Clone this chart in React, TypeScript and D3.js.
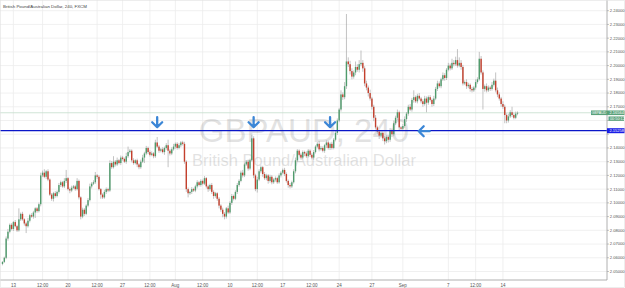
import React from "react";
import * as d3 from "d3";

// GBPAUD 4H closes
const closes = [
  2.0570, 2.0600, 2.0740, 2.0790, 2.0840, 2.0810, 2.0860, 2.0830, 2.0800, 2.0880,
  2.0920, 2.0880, 2.0850, 2.0830, 2.0870, 2.0910, 2.0900, 2.0930, 2.0960, 2.0940,
  2.0990, 2.1200, 2.1220, 2.1190, 2.1230, 2.1170, 2.1060, 2.1030, 2.1070, 2.1050,
  2.1080, 2.1130, 2.1150, 2.1120, 2.1160, 2.1180, 2.1100, 2.1090, 2.1110, 2.1120,
  2.1100, 2.1160, 2.1040, 2.0900, 2.0950, 2.0920, 2.0980, 2.1020, 2.1120, 2.1140,
  2.1150, 2.1200, 2.1190, 2.1100, 2.1060, 2.1040, 2.1080, 2.1100, 2.1090, 2.1290,
  2.1260, 2.1300, 2.1280, 2.1310, 2.1290, 2.1330, 2.1320, 2.1300, 2.1340, 2.1370,
  2.1380, 2.1310, 2.1290, 2.1310, 2.1280, 2.1260, 2.1300, 2.1330, 2.1360, 2.1400,
  2.1370, 2.1350, 2.1360, 2.1340, 2.1440, 2.1410, 2.1380, 2.1390, 2.1370, 2.1400,
  2.1420, 2.1380, 2.1360, 2.1390, 2.1410, 2.1430, 2.1400, 2.1420, 2.1440, 2.1430,
  2.1300, 2.1100, 2.1070, 2.1080, 2.1100, 2.1090, 2.1120, 2.1150, 2.1130, 2.1160,
  2.1140, 2.1180, 2.1120, 2.1100, 2.1130, 2.1080, 2.1050, 2.1070, 2.1030, 2.0980,
  2.0950, 2.0920, 2.0900, 2.0960, 2.0930, 2.1000, 2.1050, 2.1030, 2.1080, 2.1130,
  2.1160, 2.1220, 2.1200, 2.1280, 2.1300, 2.1250, 2.1310, 2.1470, 2.1200, 2.1100,
  2.1170, 2.1230, 2.1260, 2.1210, 2.1180, 2.1200, 2.1160, 2.1190, 2.1150, 2.1170,
  2.1180, 2.1150, 2.1200, 2.1220, 2.1240, 2.1210, 2.1160, 2.1130, 2.1120, 2.1150,
  2.1230, 2.1310, 2.1380, 2.1350, 2.1330, 2.1370, 2.1360, 2.1340, 2.1380, 2.1350,
  2.1330, 2.1370, 2.1410, 2.1430, 2.1390, 2.1400, 2.1380, 2.1420, 2.1440, 2.1400,
  2.1430, 2.1400, 2.1460, 2.1510, 2.1600, 2.1680, 2.1790, 2.1770, 2.1850, 2.2030,
  2.2010, 2.1960, 2.1920, 2.1950, 2.1990, 2.1970, 2.2010, 2.2020, 2.1980, 2.1870,
  2.1840, 2.1800, 2.1760, 2.1700, 2.1620, 2.1550, 2.1520, 2.1490, 2.1510, 2.1470,
  2.1450, 2.1480, 2.1460, 2.1530, 2.1500, 2.1580, 2.1620, 2.1660, 2.1550, 2.1540,
  2.1560, 2.1610, 2.1650, 2.1700, 2.1680, 2.1750, 2.1770, 2.1740, 2.1780, 2.1760,
  2.1740, 2.1720, 2.1760, 2.1730, 2.1770, 2.1750, 2.1720, 2.1760, 2.1830, 2.1870,
  2.1850, 2.1900, 2.1930, 2.1910, 2.1970, 2.2000, 2.1980, 2.2020, 2.2010, 2.2040,
  2.2000, 2.2020, 2.1990, 2.1870, 2.1880, 2.1850, 2.1860, 2.1830, 2.1820, 2.1840,
  2.1880, 2.1900, 2.2050, 2.1950, 2.1830, 2.1850, 2.1820, 2.1840, 2.1830, 2.1860,
  2.1890, 2.1820, 2.1790, 2.1760, 2.1720, 2.1700, 2.1640, 2.1600, 2.1630, 2.1660,
  2.1640, 2.1620, 2.1650, 2.1656,
];
const firstOpen = 2.0555;

// wick lengths above / below the body, in pips
const upperPips = [
  5, 8, 15, 20, 10, 12, 8, 15, 10, 80,
  10, 15, 8, 12, 20, 10, 15, 12, 8, 10,
  12, 20, 15, 25, 10, 15, 8, 12, 10, 15,
  10, 15, 12, 10, 20, 60, 8, 12, 15, 10,
  12, 20, 10, 8, 15, 12, 10, 15, 20, 12,
  15, 25, 10, 12, 8, 10, 15, 12, 10, 20,
  15, 40, 12, 20, 10, 15, 12, 10, 25, 40,
  12, 10, 15, 8, 12, 10, 15, 20, 12, 15,
  10, 12, 15, 10, 20, 40, 12, 10, 15, 10,
  15, 40, 12, 15, 20, 10, 12, 15, 10, 12,
  15, 10, 12, 8, 15, 10, 12, 15, 10, 12,
  10, 15, 8, 12, 10, 15, 12, 10, 8, 12,
  10, 15, 12, 10, 20, 12, 15, 10, 12, 15,
  12, 15, 20, 12, 10, 15, 12, 25, 15, 12,
  20, 15, 12, 10, 15, 12, 10, 15, 12, 10,
  12, 10, 15, 12, 10, 15, 12, 10, 15, 12,
  15, 20, 12, 10, 15, 12, 10, 15, 12, 10,
  12, 15, 10, 12, 20, 15, 12, 10, 15, 12,
  10, 15, 12, 20, 15, 12, 30, 15, 30, 346,
  30, 25, 20, 15, 40, 20, 30, 90, 20, 15,
  20, 15, 25, 12, 15, 20, 12, 10, 15, 12,
  15, 12, 10, 15, 12, 20, 15, 20, 12, 10,
  15, 20, 12, 15, 20, 15, 50, 12, 15, 20,
  12, 15, 20, 15, 12, 15, 10, 20, 15, 20,
  15, 12, 20, 15, 12, 20, 15, 30, 20, 25,
  80, 40, 20, 15, 12, 20, 15, 10, 15, 12,
  20, 15, 50, 20, 15, 12, 20, 15, 12, 20,
  15, 60, 20, 15, 12, 20, 15, 12, 20, 15,
  40, 12, 15, 10,
];
const lowerPips = [
  10, 8, 10, 15, 12, 10, 15, 8, 12, 10,
  12, 10, 15, 50, 10, 12, 8, 15, 40, 12,
  10, 15, 12, 10, 15, 12, 10, 15, 20, 12,
  10, 12, 15, 10, 12, 15, 10, 20, 12, 10,
  12, 10, 15, 20, 12, 15, 10, 12, 10, 15,
  10, 12, 15, 10, 30, 12, 10, 15, 12, 10,
  12, 10, 15, 12, 10, 15, 12, 10, 15, 12,
  10, 15, 12, 10, 20, 15, 12, 10, 40, 12,
  15, 12, 10, 15, 12, 10, 15, 12, 10, 20,
  12, 120, 15, 12, 10, 15, 12, 10, 15, 12,
  15, 20, 30, 12, 15, 10, 12, 15, 10, 12,
  12, 10, 15, 20, 12, 15, 20, 12, 15, 20,
  15, 25, 20, 15, 12, 10, 15, 12, 10, 15,
  12, 10, 15, 12, 10, 15, 12, 10, 20, 15,
  25, 12, 15, 20, 12, 15, 20, 12, 15, 12,
  15, 12, 10, 15, 12, 15, 12, 20, 15, 12,
  10, 15, 12, 10, 15, 12, 20, 12, 10, 15,
  12, 15, 10, 12, 15, 10, 12, 15, 20, 12,
  15, 12, 10, 12, 15, 12, 15, 20, 15, 20,
  20, 25, 20, 15, 20, 15, 20, 15, 25, 20,
  20, 25, 15, 20, 25, 15, 20, 25, 15, 20,
  25, 15, 20, 15, 20, 15, 12, 15, 20, 15,
  15, 12, 20, 15, 12, 15, 20, 12, 15, 12,
  15, 20, 12, 70, 15, 12, 20, 15, 12, 15,
  12, 15, 12, 20, 15, 12, 15, 12, 15, 12,
  15, 12, 20, 15, 12, 20, 15, 20, 15, 12,
  15, 12, 10, 15, 150, 20, 15, 12, 15, 12,
  12, 15, 20, 15, 20, 15, 60, 20, 15, 12,
  15, 12, 10, 12,
];

const priceTicks = [
  2.05, 2.06, 2.07, 2.08, 2.09, 2.1, 2.11, 2.12, 2.13, 2.14,
  2.15, 2.16, 2.17, 2.18, 2.19, 2.2, 2.21, 2.22, 2.23, 2.24,
];
const timeLabels = ["13", "12:00", "20", "12:00", "27", "12:00", "Aug", "12:00", "10", "12:00",
  "17", "12:00", "24", "27", "Sep", "7", "12:00", "14"];
const timeIndex = [6, 22, 36, 52, 66, 81, 95, 110, 125, 140, 154, 170, 185, 203, 220, 245, 260, 275];

// drawn annotations: candle index where the arrows sit, and the support level
const downArrows = [85, 138, 180];
const leftArrow = 232;
const levelPrice = 2.15258;
const lastPrice = 2.16564;

const W = 625, H = 288;
const axisX = 607, axisY = 280;

export default function App() {
  const x = d3.scaleLinear().domain([0, closes.length - 1]).range([2.5, 517.5]);
  const y = d3.scaleLinear().domain([2.05, 2.24]).range([271.5, 10.7]);

  const candles = closes.map((c, i) => {
    const o = i === 0 ? firstOpen : closes[i - 1];
    const hi = Math.max(o, c) + upperPips[i] / 10000;
    const lo = Math.min(o, c) - lowerPips[i] / 10000;
    return { i, o, c, hi, lo };
  });
  const fmt = d3.format(".5f");
  const font = "'Liberation Sans', Arial, sans-serif";
  const blue = "#3b86d6";

  // labels hidden behind the price boxes on the axis
  const covered = (p: number) =>
    Math.abs(y(p) - y(levelPrice)) < 4 || Math.abs(y(p) - (y(lastPrice) + 6)) < 4;

  return (
    <svg width={W} height={H} style={{ position: "absolute", left: 0, top: 0, background: "#fff" }}
      fontFamily={font}>
      {/* grid */}
      {priceTicks.map((p) => (
        <line key={"h" + p} x1={0} x2={axisX} y1={y(p)} y2={y(p)} stroke="#ececec" strokeWidth={0.8} />
      ))}
      {timeIndex.map((t, k) => (
        <line key={"v" + k} x1={x(t)} x2={x(t)} y1={0} y2={axisY} stroke="#ececec" strokeWidth={0.8} />
      ))}

      {/* watermark */}
      <text x={304} y={142} textAnchor="middle" fontSize={33} fill="#000" opacity={0.11}>GBPAUD, 240</text>
      <text x={304} y={166} textAnchor="middle" fontSize={16.5} fill="#000" opacity={0.11}>British Pound/Australian Dollar</text>

      {/* last price line */}
      <line x1={0} x2={axisX} y1={y(lastPrice)} y2={y(lastPrice)} stroke="#c4ddcd" strokeWidth={0.8} />

      {/* candles */}
      {candles.map((d) => (
        <line key={"w" + d.i} x1={x(d.i)} x2={x(d.i)} y1={y(d.hi)} y2={y(d.lo)} stroke="#9a9a9a" strokeWidth={0.6} />
      ))}
      {candles.map((d) => {
        const top = y(Math.max(d.o, d.c));
        const h = Math.max(0.7, y(Math.min(d.o, d.c)) - top);
        return (
          <rect key={"b" + d.i} x={x(d.i) - 0.7} y={top} width={1.4} height={h}
            fill={d.c >= d.o ? "#4f9b6c" : "#c4402d"} />
        );
      })}

      {/* support level */}
      <line x1={0} x2={axisX} y1={y(levelPrice)} y2={y(levelPrice)} stroke="#0a16c8" strokeWidth={1.3} />

      {/* arrows */}
      {downArrows.map((i) => {
        const cx = x(i), tip = y(levelPrice) - 3.5;
        return (
          <path key={"a" + i}
            d={`M${cx},${tip - 10} L${cx},${tip} M${cx - 5},${tip - 5} L${cx},${tip} L${cx + 5},${tip - 5}`}
            fill="none" stroke={blue} strokeWidth={2.3} strokeLinecap="round" strokeLinejoin="round" />
        );
      })}
      {(() => {
        const tx = x(leftArrow) - 6, cy = y(levelPrice) + 0.5;
        return (
          <path d={`M${tx + 11},${cy} L${tx},${cy} M${tx + 5},${cy - 5} L${tx},${cy} L${tx + 5},${cy + 5}`}
            fill="none" stroke={blue} strokeWidth={2.3} strokeLinecap="round" strokeLinejoin="round" />
        );
      })()}

      {/* axes */}
      <line x1={axisX} x2={axisX} y1={0} y2={axisY} stroke="#9c9c9c" strokeWidth={0.8} />
      <line x1={0} x2={axisX} y1={axisY} y2={axisY} stroke="#9c9c9c" strokeWidth={0.8} />
      <rect x={0.5} y={0.5} width={W - 1} height={H - 1} fill="none" stroke="#e2e2e2" strokeWidth={0.6} />
      {priceTicks.map((p) => (
        <g key={"pt" + p}>
          <line x1={axisX} x2={axisX + 2} y1={y(p)} y2={y(p)} stroke="#9c9c9c" strokeWidth={0.6} />
          {!covered(p) && (
            <text x={axisX + 2.8} y={y(p) + 1.4} fontSize={4.1} fill="#555">{fmt(p)}</text>
          )}
        </g>
      ))}
      {timeIndex.map((t, k) => (
        <text key={"tl" + k} x={x(t)} y={287} textAnchor="middle" fontSize={4.5} fill="#555">{timeLabels[k]}</text>
      ))}

      {/* price labels on axis */}
      <rect x={591} y={y(lastPrice) - 2.3} width={16} height={4.6} fill="#5aa17a" />
      <text x={599} y={y(lastPrice) + 1.3} textAnchor="middle" fontSize={3.6} fill="#fff">GBPAUD</text>
      <rect x={axisX} y={y(lastPrice) - 2.3} width={17.5} height={4.6} fill="#5aa17a" />
      <text x={axisX + 2.5} y={y(lastPrice) + 1.4} fontSize={4} fill="#fff">{fmt(lastPrice)}</text>
      <rect x={axisX + 1.5} y={y(lastPrice) + 3.7} width={15.5} height={4.4} fill="#5aa17a" />
      <text x={axisX + 3} y={y(lastPrice) + 7.1} fontSize={3.8} fill="#fff">00:50:12</text>
      <rect x={axisX} y={y(levelPrice) - 2.5} width={17.5} height={5} fill="#1a1ee6" />
      <text x={axisX + 2.5} y={y(levelPrice) + 1.5} fontSize={4} fill="#fff">{fmt(levelPrice)}</text>

      {/* title */}
      <text x={3} y={8} fontSize={4.4} fill="#444">British Pound/Australian Dollar, 240, FXCM</text>
    </svg>
  );
}
